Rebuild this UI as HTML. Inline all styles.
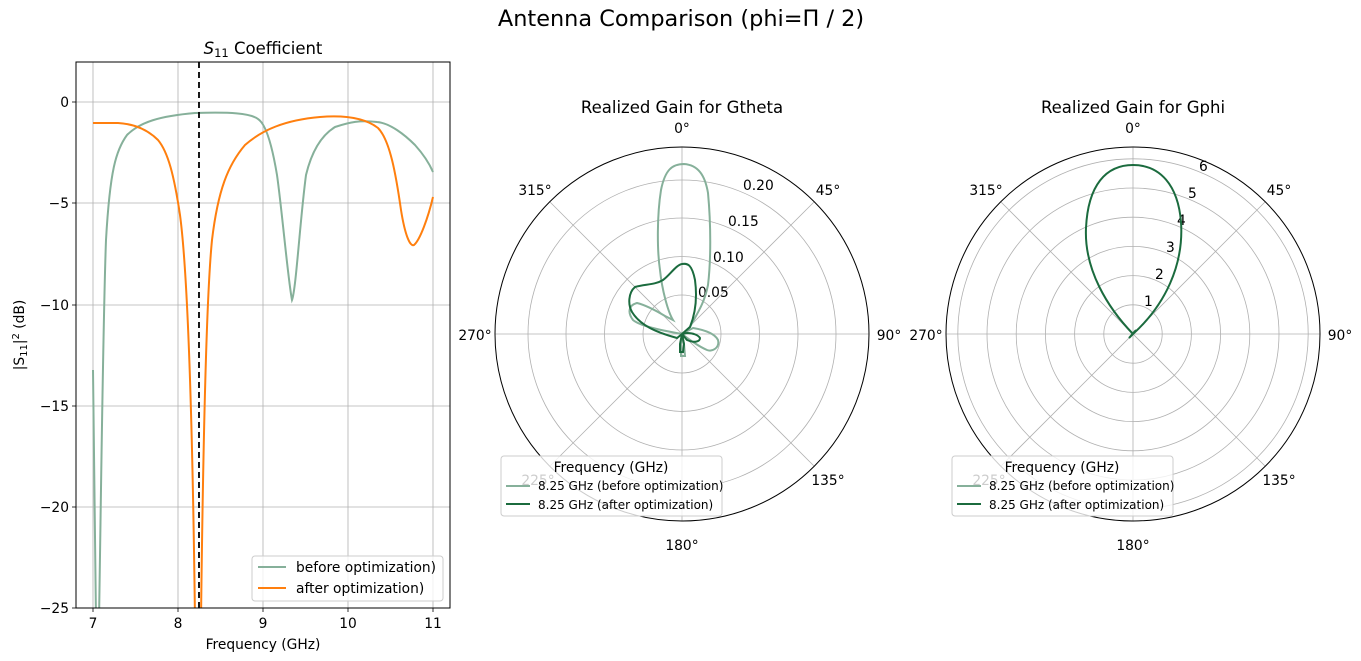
<!DOCTYPE html>
<html><head><meta charset="utf-8"><style>
body{margin:0;background:#fff}
svg{display:block;font-family:"DejaVu Sans","Liberation Sans",sans-serif}
</style></head><body>
<svg width="1361" height="661" viewBox="0 0 1361 661" xmlns="http://www.w3.org/2000/svg">
<text x="681" y="26" font-size="22.4" text-anchor="middle">Antenna Comparison (phi=Π / 2)</text>

<!-- Left chart -->
<text x="263" y="54" font-size="16.5" text-anchor="middle"><tspan font-style="italic">S</tspan><tspan font-size="11.5" dy="3">11</tspan><tspan dy="-3"> Coefficient</tspan></text>
<g stroke="#b0b0b0" stroke-width="0.8">
<line x1="93" y1="62" x2="93" y2="608"/><line x1="178" y1="62" x2="178" y2="608"/><line x1="263" y1="62" x2="263" y2="608"/><line x1="348" y1="62" x2="348" y2="608"/><line x1="433" y1="62" x2="433" y2="608"/>
<line x1="76" y1="102" x2="450" y2="102"/><line x1="76" y1="203" x2="450" y2="203"/><line x1="76" y1="305" x2="450" y2="305"/><line x1="76" y1="406" x2="450" y2="406"/><line x1="76" y1="507" x2="450" y2="507"/>
</g>
<clipPath id="cl"><rect x="76" y="62" width="374" height="546"/></clipPath>
<g clip-path="url(#cl)" fill="none" stroke-width="2">
<path stroke="#86b09a" d="M93,370 L96,620 L99,620 C101,500 103,320 106,240 C110,170 116,150 127,135 C140,122 160,116 195,113 C230,112 250,113 258,119 C266,124 272,145 277,175 C282,210 288,280 292,300 C296,290 300,220 306,175 C312,150 322,135 335,127 C350,122 360,120 377,122 C390,123 405,135 415,145 C424,155 430,165 433,172"/>
<path stroke="#ff7f0e" d="M93,123 L118,123 C135,124 148,130 158,140 C168,152 174,175 180,215 C186,260 192,380 195,620 L201,620 C203,450 206,300 212,240 C218,190 228,165 245,145 C262,130 285,120 320,117 C345,115 365,118 378,128 C390,140 396,175 401,210 C405,235 410,247 414,245 C420,240 428,218 433,197"/>
<line x1="199" y1="62" x2="199" y2="608" stroke="#000" stroke-width="1.8" stroke-dasharray="6,4"/>
</g>
<rect x="76" y="62" width="374" height="546" fill="none" stroke="#000" stroke-width="1"/>
<g font-size="13.8" text-anchor="middle">
<text x="93" y="628">7</text><text x="178" y="628">8</text><text x="263" y="628">9</text><text x="348" y="628">10</text><text x="433" y="628">11</text>
<text x="263" y="649">Frequency (GHz)</text>
</g>
<g font-size="13.8" text-anchor="end">
<text x="69" y="107">0</text><text x="69" y="208">−5</text><text x="69" y="310">−10</text><text x="69" y="411">−15</text><text x="69" y="512">−20</text><text x="69" y="613">−25</text>
</g>
<g stroke="#000" stroke-width="0.8">
<line x1="72" y1="102" x2="76" y2="102"/><line x1="72" y1="203" x2="76" y2="203"/><line x1="72" y1="305" x2="76" y2="305"/><line x1="72" y1="406" x2="76" y2="406"/><line x1="72" y1="507" x2="76" y2="507"/><line x1="72" y1="608" x2="76" y2="608"/>
<line x1="93" y1="608" x2="93" y2="612"/><line x1="178" y1="608" x2="178" y2="612"/><line x1="263" y1="608" x2="263" y2="612"/><line x1="348" y1="608" x2="348" y2="612"/><line x1="433" y1="608" x2="433" y2="612"/>
</g>
<text transform="translate(24,335) rotate(-90)" font-size="13.8" text-anchor="middle">|S<tspan font-size="10" dy="3">11</tspan><tspan dy="-3">|</tspan><tspan font-size="10" dy="-5">2</tspan><tspan dy="5"> (dB)</tspan></text>
<rect x="252" y="556" width="191" height="45" fill="#fff" fill-opacity="0.8" stroke="#ccc" rx="3"/>
<line x1="258" y1="567" x2="286" y2="567" stroke="#86b09a" stroke-width="2"/>
<line x1="258" y1="588" x2="286" y2="588" stroke="#ff7f0e" stroke-width="2"/>
<text x="296" y="572" font-size="13.8">before optimization)</text>
<text x="296" y="593" font-size="13.8">after optimization)</text>

<!-- Middle polar -->
<text x="682" y="113" font-size="16.5" text-anchor="middle">Realized Gain for Gtheta</text>
<g fill="none" stroke="#b0b0b0" stroke-width="0.8">
<circle cx="682" cy="334" r="39"/><circle cx="682" cy="334" r="77.5"/><circle cx="682" cy="334" r="116"/><circle cx="682" cy="334" r="154"/>
<line x1="682" y1="147" x2="682" y2="521"/><line x1="495" y1="334" x2="869" y2="334"/>
<line x1="550" y1="202" x2="814" y2="466"/><line x1="814" y1="202" x2="550" y2="466"/>
</g>
<circle cx="682" cy="334" r="187" fill="none" stroke="#000" stroke-width="1"/>
<g font-size="13.8">
<text x="698" y="297">0.05</text><text x="713" y="262">0.10</text><text x="728" y="226">0.15</text><text x="743" y="190">0.20</text>
</g>
<g font-size="13.8" text-anchor="middle">
<text x="682" y="133">0°</text><text x="828" y="195">45°</text><text x="889" y="340">90°</text><text x="828" y="485">135°</text>
<text x="682" y="550">180°</text><text x="538" y="485">225°</text><text x="475" y="340">270°</text><text x="535" y="195">315°</text>
</g>
<g fill="none" stroke-width="2">
<path stroke="#86b09a" d="M682,334 L690,327 C696,315 704,305 708,285 C711,260 711,225 708,193 C705,175 698,165 684,164 C672,164 665,170 661,190 C657,215 657,250 660,270 C662,290 668,312 673,320 L665,316 C655,310 645,305 637,303 C629,305 627,312 633,320 C640,326 660,330 682,334 L693,328 C705,330 715,334 718,340 C720,348 712,352 707,350 C698,346 690,340 682,334 L684,344 L685,356 L681,356 L681,344 L682,334"/>
<path stroke="#1b6b3e" d="M682,334 L690,327 C696,312 697,295 695,280 C692,265 688,263 682,264 C676,265 670,275 663,280 C655,285 645,284 635,287 C628,293 628,305 632,312 C640,325 655,332 677,338 L682,334 L687,333 C693,333 698,335 700,338 C700,342 694,343 687,340 L682,334 L684,344 L683,352 L680,352 L680,344 Z"/>
</g>
<rect x="501" y="456" width="221" height="60" fill="#fff" fill-opacity="0.8" stroke="#ccc" rx="3"/>
<text x="611" y="472" font-size="13.8" text-anchor="middle">Frequency (GHz)</text>
<line x1="506" y1="486" x2="530" y2="486" stroke="#86b09a" stroke-width="2"/>
<line x1="506" y1="504" x2="530" y2="504" stroke="#1b6b3e" stroke-width="2"/>
<text x="538" y="490" font-size="12">8.25 GHz (before optimization)</text>
<text x="538" y="509" font-size="12">8.25 GHz (after optimization)</text>

<!-- Right polar -->
<text x="1133" y="113" font-size="16.5" text-anchor="middle">Realized Gain for Gphi</text>
<g fill="none" stroke="#b0b0b0" stroke-width="0.8">
<circle cx="1133" cy="334" r="29.2"/><circle cx="1133" cy="334" r="58.4"/><circle cx="1133" cy="334" r="87.6"/><circle cx="1133" cy="334" r="116.8"/><circle cx="1133" cy="334" r="146"/><circle cx="1133" cy="334" r="175.2"/>
<line x1="1133" y1="147" x2="1133" y2="521"/><line x1="946" y1="334" x2="1320" y2="334"/>
<line x1="1001" y1="202" x2="1265" y2="466"/><line x1="1265" y1="202" x2="1001" y2="466"/>
</g>
<circle cx="1133" cy="334" r="187" fill="none" stroke="#000" stroke-width="1"/>
<g font-size="13.8">
<text x="1144" y="306">1</text><text x="1155" y="279">2</text><text x="1166" y="252">3</text><text x="1177" y="225">4</text><text x="1188" y="198">5</text><text x="1199" y="171">6</text>
</g>
<g font-size="13.8" text-anchor="middle">
<text x="1133" y="133">0°</text><text x="1279" y="195">45°</text><text x="1340" y="340">90°</text><text x="1279" y="485">135°</text>
<text x="1133" y="550">180°</text><text x="989" y="485">225°</text><text x="926" y="340">270°</text><text x="986" y="195">315°</text>
</g>
<path fill="none" stroke="#1b6b3e" stroke-width="2" d="M1133,334 C1165,305 1184,265 1181,222 C1178,185 1160,165 1133,165 C1106,165 1088,185 1086,228 C1084,270 1108,308 1133,334 L1129,338 L1136,330"/>
<rect x="952" y="456" width="221" height="60" fill="#fff" fill-opacity="0.8" stroke="#ccc" rx="3"/>
<text x="1062" y="472" font-size="13.8" text-anchor="middle">Frequency (GHz)</text>
<line x1="957" y1="486" x2="981" y2="486" stroke="#86b09a" stroke-width="2"/>
<line x1="957" y1="504" x2="981" y2="504" stroke="#1b6b3e" stroke-width="2"/>
<text x="989" y="490" font-size="12">8.25 GHz (before optimization)</text>
<text x="989" y="509" font-size="12">8.25 GHz (after optimization)</text>
</svg>
</body></html>
